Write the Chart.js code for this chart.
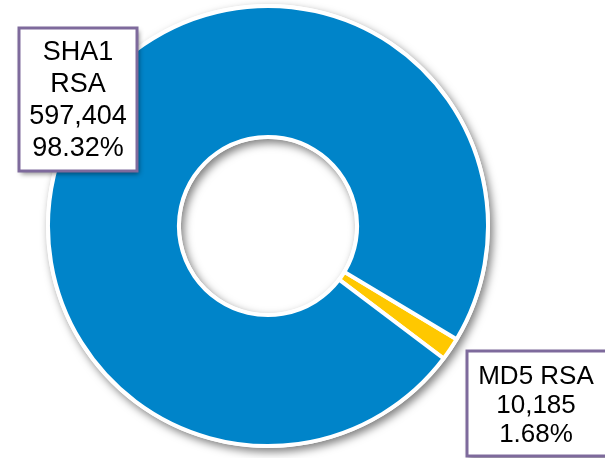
<!DOCTYPE html>
<html><head><meta charset="utf-8">
<script src="https://cdn.jsdelivr.net/npm/chart.js@4"></script>
<style>html,body{margin:0;padding:0;background:#fff;overflow:hidden}#wrap{width:605px;height:458px;position:relative}</style>
</head><body><div id="wrap"><canvas id="c"></canvas></div>
<script>
const categories = ['MD5 RSA', 'SHA1 RSA'];
const counts = [10185, 597404];
const sliceColors = ['#FFC800', '#0084C9'];
const labelLines = [['MD5 RSA'], ['SHA1', 'RSA']];

const total = counts.reduce((a, b) => a + b, 0);

const ringShadow = {
  id: 'ringShadow',
  beforeDatasetsDraw(chart) {
    const arc = chart.getDatasetMeta(0).data[0];
    if (!arc) return;
    const { x, y, outerRadius, innerRadius } = arc;
    const ctx = chart.ctx;
    ctx.save();
    ctx.shadowColor = 'rgba(0,0,0,0.5)';
    ctx.shadowBlur = 8;
    ctx.shadowOffsetX = 3;
    ctx.shadowOffsetY = 4;
    ctx.beginPath();
    ctx.arc(x, y, outerRadius + 2, 0, Math.PI * 2);
    ctx.arc(x, y, innerRadius - 2, 0, Math.PI * 2, true);
    ctx.fillStyle = '#fff';
    ctx.fill();
    ctx.restore();
  }
};

const labelBoxes = {
  id: 'labelBoxes',
  afterDatasetsDraw(chart, args, opts) {
    const ctx = chart.ctx;
    opts.boxes.forEach((b, i) => {
      const v = counts[i];
      const lines = labelLines[i].concat([
        v.toLocaleString('en-US'),
        (v / total * 100).toFixed(2) + '%'
      ]);
      ctx.save();
      ctx.shadowColor = 'rgba(0,0,0,0.45)';
      ctx.shadowBlur = 5;
      ctx.shadowOffsetX = 2;
      ctx.shadowOffsetY = 3;
      ctx.fillStyle = '#fff';
      ctx.fillRect(b.x, b.y, b.w, b.h);
      ctx.restore();
      ctx.save();
      ctx.strokeStyle = '#7E6A9C';
      ctx.lineWidth = 3;
      ctx.strokeRect(b.x, b.y, b.w, b.h);
      ctx.fillStyle = '#000';
      ctx.font = b.font;
      ctx.textAlign = 'center';
      ctx.textBaseline = 'middle';
      lines.forEach((t, k) => ctx.fillText(t, b.cx, b.ty + k * b.lh));
      ctx.restore();
    });
  }
};

new Chart(document.getElementById('c'), {
  type: 'doughnut',
  data: {
    labels: categories,
    datasets: [{
      data: counts,
      backgroundColor: sliceColors,
      borderColor: '#ffffff',
      borderWidth: 4
    }]
  },
  options: {
    responsive: true,
    maintainAspectRatio: false,
    animation: false,
    rotation: 121,
    cutout: '40.5%',
    layout: { padding: { left: 46, right: 115, top: 4, bottom: 10 } },
    plugins: {
      legend: { display: false },
      tooltip: { enabled: false },
      labelBoxes: {
        boxes: [
          { x: 467, y: 351, w: 146, h: 105, cx: 536, ty: 377, lh: 29, font: '26px "Liberation Sans", Arial, sans-serif' },
          { x: 19, y: 28, w: 118, h: 143, cx: 78, ty: 53, lh: 32, font: '27px "Liberation Sans", Arial, sans-serif' }
        ]
      }
    }
  },
  plugins: [ringShadow, labelBoxes]
});
</script></body></html>
